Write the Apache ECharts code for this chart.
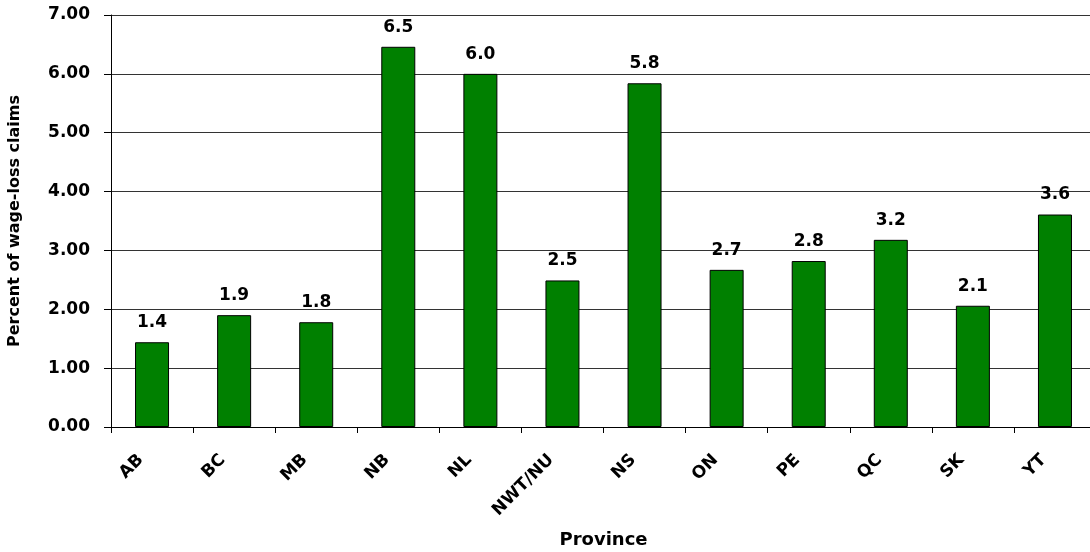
<!DOCTYPE html>
<html>
<head>
<meta charset="utf-8">
<script src="https://cdn.jsdelivr.net/npm/echarts@6/dist/echarts.min.js"></script>
<style>
html,body{margin:0;padding:0;background:#fff;}
#chart{width:1090px;height:552px;}
</style>
</head>
<body>
<div id="chart"></div>
<script>
var categories = ['AB','BC','MB','NB','NL','NWT/NU','NS','ON','PE','QC','SK','YT'];
var values = [1.44, 1.90, 1.78, 6.46, 6.00, 2.49, 5.84, 2.67, 2.82, 3.18, 2.06, 3.61];
var yAxisTitle = 'Percent of wage-loss claims';
var xAxisTitle = 'Province';

var FONT = 'DejaVu Sans';
var chart = echarts.init(document.getElementById('chart'), null, {renderer:'canvas'});
chart.setOption({
  animation: false,
  backgroundColor: '#ffffff',
  grid: {left: 111, width: 985, top: 15, height: 412, containLabel: false, outerBoundsMode: 'none'},
  xAxis: {
    type: 'category',
    data: categories,
    name: xAxisTitle,
    nameLocation: 'middle',
    nameGap: 104,
    nameTextStyle: {fontFamily: FONT, fontWeight: 'bold', fontSize: 18, color: '#000', verticalAlign: 'top'},
    axisLine: {lineStyle: {color: '#000', width: 1}},
    axisTick: {show: true, length: 6, lineStyle: {color: '#000'}},
    axisLabel: {
      rotate: 45, margin: 19, interval: 0,
      fontFamily: FONT, fontWeight: 'bold', fontSize: 17, color: '#000',
      padding: [0, 16, 0, 0]
    }
  },
  yAxis: {
    type: 'value',
    min: 0, max: 7, interval: 1,
    name: yAxisTitle,
    nameLocation: 'middle',
    nameGap: 88,
    nameTextStyle: {fontFamily: FONT, fontWeight: 'bold', fontSize: 16, color: '#000'},
    axisLine: {show: true, lineStyle: {color: '#000', width: 1}},
    axisTick: {show: true, length: 7, lineStyle: {color: '#000'}},
    axisLabel: {
      margin: 21,
      fontFamily: FONT, fontWeight: 'bold', fontSize: 17, color: '#000',
      formatter: function (v) { return v.toFixed(2); }
    },
    splitLine: {show: true, lineStyle: {color: '#333', width: 1}}
  },
  series: [{
    type: 'bar',
    data: values,
    barWidth: 34,
    itemStyle: {color: '#008000', borderColor: '#000', borderWidth: 1},
    label: {
      show: true, position: 'top', distance: 11,
      fontFamily: FONT, fontWeight: 'bold', fontSize: 17, color: '#000',
      formatter: function (p) { return p.value.toFixed(1); }
    }
  }]
});
</script>
</body>
</html>
